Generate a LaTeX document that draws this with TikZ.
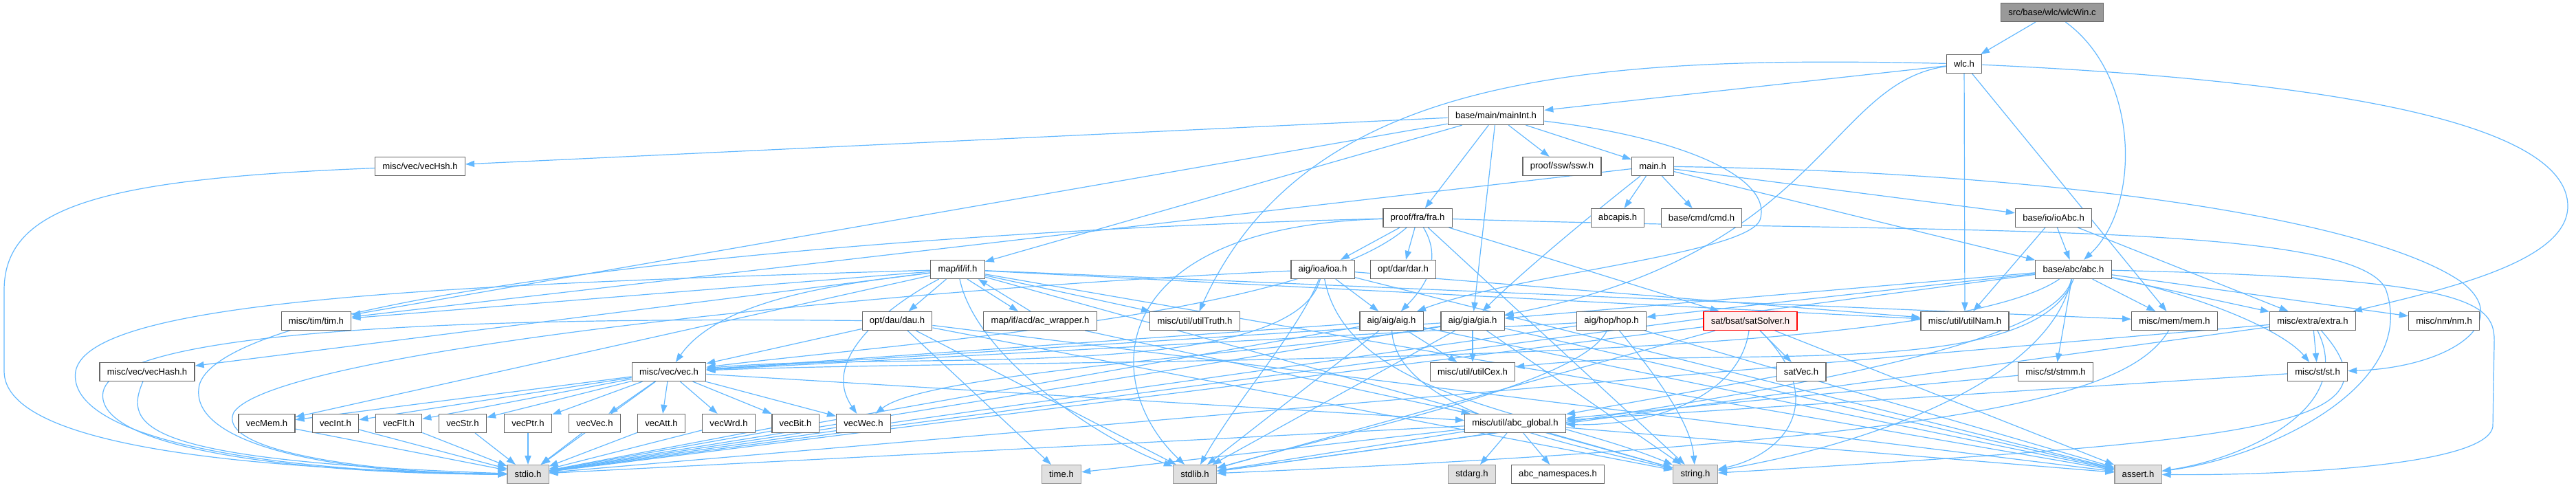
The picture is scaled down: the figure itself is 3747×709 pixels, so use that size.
\documentclass[tikz,border=0pt]{standalone}
\usepackage{fontspec}
\setmainfont{Liberation Sans}
\usetikzlibrary{arrows.meta}
\pgfdeclarelayer{bg}
\pgfsetlayers{bg,main}
\definecolor{ecol}{RGB}{99,184,255}
\definecolor{bordc}{RGB}{102,102,102}
\definecolor{sysf}{RGB}{224,224,224}
\definecolor{sysb}{RGB}{153,153,153}
\definecolor{rootf}{RGB}{153,153,153}
\definecolor{truncf}{RGB}{255,240,240}
\begin{document}
\begin{tikzpicture}[x=0.5pt,y=-0.5pt,
  nd/.style={draw=bordc, fill=white, line width=0.6pt, inner xsep=5.4pt, inner ysep=0pt,
    minimum height=13.5pt, font=\fontsize{6.55pt}{7.5pt}\selectfont, text=black},
  sys/.style={nd, draw=sysb, fill=sysf},
  rootn/.style={nd, fill=rootf},
  trunc/.style={nd, draw=red, fill=truncf},
  dep/.style={draw=ecol, line width=0.6pt, -{Triangle[length=6.5pt,width=4.6pt]}}]
\useasboundingbox (0,0) rectangle (3747,709);

% nodes
\node[rootn] (root) at (2985,18) {src/base/wlc/wlcWin.c};
\node[nd] (wlc) at (2857,93) {wlc.h};
\node[nd] (mainInt) at (2176,168) {base/main/mainInt.h};
\node[nd] (vecHsh) at (611,242) {misc/vec/vecHsh.h};
\node[nd] (ssw) at (2272,242) {proof/ssw/ssw.h};
\node[nd] (mainh) at (2404,242) {main.h};
\node[nd] (fra) at (2062,317) {proof/fra/fra.h};
\node[nd] (abcapis) at (2353,317) {abcapis.h};
\node[nd] (cmd) at (2475,317) {base/cmd/cmd.h};
\node[nd] (ioAbc) at (2987,317) {base/io/ioAbc.h};
\node[nd] (ifh) at (1393,392) {map/if/if.h};
\node[nd] (ioa) at (1924,392) {aig/ioa/ioa.h};
\node[nd] (dar) at (2041,392) {opt/dar/dar.h};
\node[nd] (abc) at (3016,392) {base/abc/abc.h};
\node[nd] (tim) at (460,467) {misc/tim/tim.h};
\node[nd] (dau) at (1305,467) {opt/dau/dau.h};
\node[nd] (acw) at (1513,467) {map/if/acd/ac\_wrapper.h};
\node[nd] (truth) at (1738,467) {misc/util/utilTruth.h};
\node[nd] (aig) at (2024,467) {aig/aig/aig.h};
\node[nd] (gia) at (2142,467) {aig/gia/gia.h};
\node[nd] (hop) at (2344,467) {aig/hop/hop.h};
\node[trunc] (sat) at (2546,467) {sat/bsat/satSolver.h};
\node[nd] (nam) at (2858,467) {misc/util/utilNam.h};
\node[nd] (mem) at (3163,467) {misc/mem/mem.h};
\node[nd] (extra) at (3364,467) {misc/extra/extra.h};
\node[nd] (nm) at (3555,467) {misc/nm/nm.h};
\node[nd] (vecHash) at (214,541) {misc/vec/vecHash.h};
\node[nd] (vec) at (973,541) {misc/vec/vec.h};
\node[nd] (cex) at (2142,541) {misc/util/utilCex.h};
\node[nd] (satVec) at (2620,541) {satVec.h};
\node[nd] (stmm) at (2990,541) {misc/st/stmm.h};
\node[nd] (st) at (3371,541) {misc/st/st.h};
\node[nd] (vecMem) at (388,616) {vecMem.h};
\node[nd] (vecInt) at (488,616) {vecInt.h};
\node[nd] (vecFlt) at (580,616) {vecFlt.h};
\node[nd] (vecStr) at (673,616) {vecStr.h};
\node[nd] (vecPtr) at (768,616) {vecPtr.h};
\node[nd] (vecVec) at (865,616) {vecVec.h};
\node[nd] (vecAtt) at (962,616) {vecAtt.h};
\node[nd] (vecWrd) at (1060,616) {vecWrd.h};
\node[nd] (vecBit) at (1157,616) {vecBit.h};
\node[nd] (vecWec) at (1256,616) {vecWec.h};
\node[nd] (global) at (2204,616) {misc/util/abc\_global.h};
\node[sys] (stdio) at (768,690) {stdio.h};
\node[sys] (time) at (1544,690) {time.h};
\node[sys] (stdlib) at (1738,690) {stdlib.h};
\node[sys] (stdarg) at (2141,690) {stdarg.h};
\node[nd] (ns) at (2266,690) {abc\_namespaces.h};
\node[sys] (string) at (2466,690) {string.h};
\node[sys] (assert) at (3110,690) {assert.h};

\begin{pgfonlayer}{bg}
% root
\draw[dep] (root) -- (wlc);
\draw[dep] (root) .. controls (3112,110) and (3115,300) .. (abc);
% wlc
\draw[dep] (wlc) -- (mainInt);
\draw[dep] (wlc) .. controls (2660,120) and (2650,370) .. (gia);
\draw[dep] (wlc) .. controls (2300,80) and (1900,110) .. (truth);
\draw[dep] (wlc) -- (nam);
\draw[dep] (wlc) -- (mem);
\draw[dep] (wlc) .. controls (3450,120) and (3735,190) .. (3735,300) .. controls (3735,380) and (3560,420) .. (extra);
% mainInt
\draw[dep] (mainInt) -- (vecHsh);
\draw[dep] (mainInt) -- (tim);
\draw[dep] (mainInt) -- (ifh);
\draw[dep] (mainInt) -- (fra);
\draw[dep] (mainInt) -- (gia);
\draw[dep] (mainInt) -- (ssw);
\draw[dep] (mainInt) -- (mainh);
\draw[dep] (mainInt) .. controls (2450,200) and (2580,260) .. (2560,320) .. controls (2540,370) and (2200,400) .. (aig);
% main
\draw[dep] (mainh) -- (ioAbc);
\draw[dep] (mainh) -- (abc);
\draw[dep] (mainh) -- (cmd);
\draw[dep] (mainh) -- (abcapis);
\draw[dep] (mainh) .. controls (2330,300) and (2220,390) .. (gia);
\draw[dep] (mainh) -- (tim);
\draw[dep] (mainh) .. controls (3000,250) and (3450,320) .. (3580,410) .. controls (3660,470) and (3560,535) .. (st);
% fra
\draw[dep] (fra) -- (ioa);
\draw[dep] (fra) -- (dar);
\draw[dep] (fra) .. controls (2100,380) and (2070,420) .. (aig);
\draw[dep] (fra) -- (sat);
\draw[dep] (fra) .. controls (1900,460) and (1300,500) .. (vec);
\draw[dep] (fra) -- (string);
\draw[dep] (fra) .. controls (1300,335) and (330,420) .. (290,560) .. controls (270,650) and (500,690) .. (stdio);
\draw[dep] (fra) .. controls (1600,330) and (1600,560) .. (stdlib);
\draw[dep] (fra) .. controls (2800,340) and (3420,320) .. (3470,420) .. controls (3520,560) and (3300,665) .. (assert);
% ioAbc
\draw[dep] (ioAbc) -- (abc);
\draw[dep] (ioAbc) -- (nam);
\draw[dep] (ioAbc) -- (extra);
% if
\draw[dep] (ifh) -- (dau);
\draw[dep] ([xshift=7pt]ifh.south) -- ([xshift=-16pt]acw.north);
\draw[dep] ([xshift=-7pt]acw.north) -- ([xshift=15pt]ifh.south);
\draw[dep] (ifh) -- (truth);
\draw[dep] (ifh) .. controls (1300,440) and (1190,520) .. (vecWec);
\draw[dep] (ifh) .. controls (1420,520) and (1600,640) .. (stdlib);
\draw[dep] (ifh) .. controls (1250,410) and (1050,430) .. (vec);
\draw[dep] (ifh) -- (tim);
\draw[dep] (ifh) -- (vecHash);
\draw[dep] (ifh) -- (vecMem);
\draw[dep] (ifh) .. controls (600,415) and (130,440) .. (110,540) .. controls (95,640) and (400,688) .. (stdio);
\draw[dep] (ifh) -- (mem);
\draw[dep] (ifh) -- (nam);
\draw[dep] (ifh) -- (string);
\draw[dep] (ifh) -- (assert);
% ac_wrapper
\draw[dep] (acw) -- (global);
% dau
\draw[dep] (dau) -- (vec);
\draw[dep] (dau) -- (time);
\draw[dep] (dau) -- (stdlib);
\draw[dep] (dau) -- (string);
\draw[dep] (dau) -- (assert);
\draw[dep] (dau) .. controls (800,462) and (170,470) .. (150,570) .. controls (135,655) and (450,690) .. (stdio);
% ioa
\draw[dep] (ioa) -- (aig);
\draw[dep] (ioa) .. controls (1880,560) and (1300,510) .. (vec);
\draw[dep] (ioa) .. controls (1890,480) and (1800,580) .. (stdlib);
\draw[dep] (ioa) .. controls (1960,580) and (2250,600) .. (string);
\draw[dep] (ioa) -- (assert);
\draw[dep] (ioa) -- (nam);
\draw[dep] (ioa) .. controls (1300,420) and (400,510) .. (340,600) .. controls (310,665) and (600,690) .. (stdio);
% aig
\draw[dep] (aig) -- (cex);
\draw[dep] (aig) -- (vec);
\draw[dep] (aig) -- (stdio);
\draw[dep] (aig) -- (stdlib);
\draw[dep] (aig) .. controls (2030,600) and (2300,650) .. (string);
\draw[dep] (aig) -- (assert);
% gia
\draw[dep] (gia) -- (cex);
\draw[dep] (gia) -- (vec);
\draw[dep] (gia) .. controls (1900,510) and (1350,540) .. (vecWec);
\draw[dep] (gia) -- (stdio);
\draw[dep] (gia) -- (stdlib);
\draw[dep] (gia) -- (string);
\draw[dep] (gia) -- (assert);
% hop
\draw[dep] (hop) -- (vec);
\draw[dep] (hop) -- (stdio);
\draw[dep] (hop) .. controls (2300,560) and (1950,630) .. (stdlib);
\draw[dep] (hop) .. controls (2420,560) and (2460,620) .. (string);
\draw[dep] (hop) -- (assert);
% sat
\draw[dep] (sat) -- (satVec);
\draw[dep] (sat) .. controls (2530,580) and (2400,620) .. (global);
\draw[dep] (sat) -- (stdio);
\draw[dep] (sat) -- (stdlib);
\draw[dep] (sat) .. controls (2660,580) and (2600,660) .. (string);
\draw[dep] (sat) -- (assert);
\draw[dep] (satVec) -- (global);
% abc
\draw[dep] (abc) -- (hop);
\draw[dep] (abc) -- (gia);
\draw[dep] (abc) .. controls (2800,540) and (1500,520) .. (vec);
\draw[dep] (abc.south) .. controls (2960,560) and (2500,500) .. (cex);
\draw[dep] (abc) -- (stmm);
\draw[dep] (abc) -- (mem);
\draw[dep] (abc) -- (extra);
\draw[dep] (abc) -- (nm);
\draw[dep] (abc) .. controls (3200,430) and (3320,480) .. (st);
\draw[dep] (abc) -- (stdio);
\draw[dep] (abc) .. controls (2990,520) and (2400,600) .. (stdlib);
\draw[dep] (abc) .. controls (2980,560) and (2700,650) .. (string);
\draw[dep] (abc) .. controls (3600,405) and (3630,440) .. (3628,500) -- (3626,620) .. controls (3620,680) and (3300,692) .. (assert);
% extra
\draw[dep] (extra) -- (st);
\draw[dep] (extra) -- (stdio);
\draw[dep] (extra) -- (stdlib);
\draw[dep] (extra) .. controls (3500,620) and (3300,640) .. (string);
\draw[dep] (extra) .. controls (3430,600) and (3250,670) .. (assert);
% st, stmm, mem
\draw[dep] (st) -- (global);
\draw[dep] (stmm) -- (global);
\draw[dep] (mem) .. controls (3100,570) and (2900,640) .. (stdlib);
% abc_global
\draw[dep] (global) -- (stdarg);
\draw[dep] (global) -- (ns);
\draw[dep] (global) -- (string);
\draw[dep] (global) -- (assert);
\draw[dep] (global) -- (stdio);
\draw[dep] (global) -- (stdlib);
\draw[dep] (global) -- (time);
% vec
\foreach \t in {vecMem,vecInt,vecFlt,vecStr,vecPtr,vecVec,vecAtt,vecWrd,vecBit,vecWec}
  {\draw[dep] (vec) -- (\t); \draw[dep] (\t) -- (stdio);}
\draw[dep] (vec) -- (global);
\draw[dep] (vec) -- (stdio);
% vecHsh, vecHash
\draw[dep] (vecHsh) .. controls (150,260) and (8,300) .. (6,420) -- (6,540) .. controls (6,640) and (300,682) .. (stdio);
\draw[dep] (vecHash) .. controls (180,620) and (200,670) .. (stdio);
\end{pgfonlayer}
\end{tikzpicture}
\end{document}
